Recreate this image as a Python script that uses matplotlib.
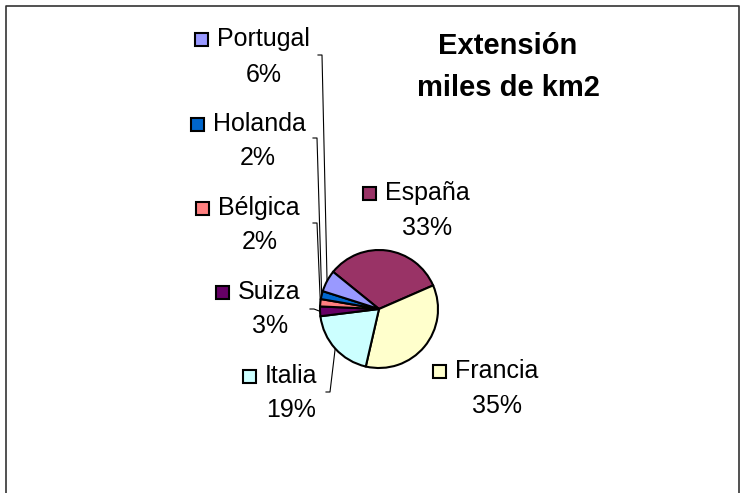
import numpy as np
import matplotlib
matplotlib.use("Agg")
from matplotlib import pyplot as plt
from matplotlib.patches import Rectangle

plt.rcParams['font.family'] = ['Liberation Sans', 'DejaVu Sans']

# datos (miles de km2)
paises = ['España', 'Francia', 'Italia', 'Suiza', 'Bélgica', 'Holanda', 'Portugal']
extension = [505, 544, 301, 41, 31, 34, 92]
colores = ['#993366', '#FFFFCC', '#CCFFFF', '#660066', '#FF8080', '#0066CC', '#9999FF']

W, H = 745, 493
# posiciones de las etiquetas (pixeles, origen arriba a la izquierda)
pos_nombre = [(385, 193), (455, 371), (265, 376), (238, 292), (218, 208), (213, 124), (217, 39)]
pos_pct = [(427, 228), (497, 406), (291, 410), (270, 326), (260, 242), (258, 158), (264, 75)]
# guia: punto de inicio de cada linea (None = sin linea)
guia = [None, None, (326, 392), (310, 309), (313, 223), (313, 138), (318, 55)]

cx, cy, r = 379, 309, 59
inicio = 141

fig = plt.figure(figsize=(W / 100, H / 100), dpi=100)
ax = fig.add_axes([0, 0, 1, 1])

wedges, _ = ax.pie(extension, colors=colores, startangle=inicio, counterclock=False,
                   center=(cx, H - cy), radius=r,
                   wedgeprops=dict(edgecolor='black', linewidth=1.5))

total = sum(extension)
for i, w in enumerate(wedges):
    nx, ny = pos_nombre[i]
    ax.add_patch(Rectangle((nx - 22, H - ny - 6.5), 13, 13, facecolor=colores[i],
                           edgecolor='black', linewidth=1.5))
    ax.text(nx, H - ny, paises[i], fontsize=18, ha='left', va='center')
    px_, py_ = pos_pct[i]
    ax.text(px_, H - py_, f"{round(100 * extension[i] / total)}%", fontsize=18,
            ha='center', va='center')
    if guia[i] is not None:
        ang = np.deg2rad((w.theta1 + w.theta2) / 2)
        ex, ey = cx + r * np.cos(ang), (H - cy) + r * np.sin(ang)
        gx, gy = guia[i]
        ax.plot([gx, gx + 4, ex], [H - gy, H - gy, ey], color='black', linewidth=0.8)

ax.text(508, H - 46, 'Extensión', fontsize=21, fontweight='bold', ha='center', va='center')
ax.text(508, H - 88, 'miles de km2', fontsize=21, fontweight='bold', ha='center', va='center')

# borde del grafico
ax.plot([6, 6, 739, 739], [-5, H - 6, H - 6, -5], color='#333333', linewidth=1.2)

ax.set_xlim(0, W)
ax.set_ylim(0, H)
ax.axis('off')
fig.savefig('out.png', dpi=100)
